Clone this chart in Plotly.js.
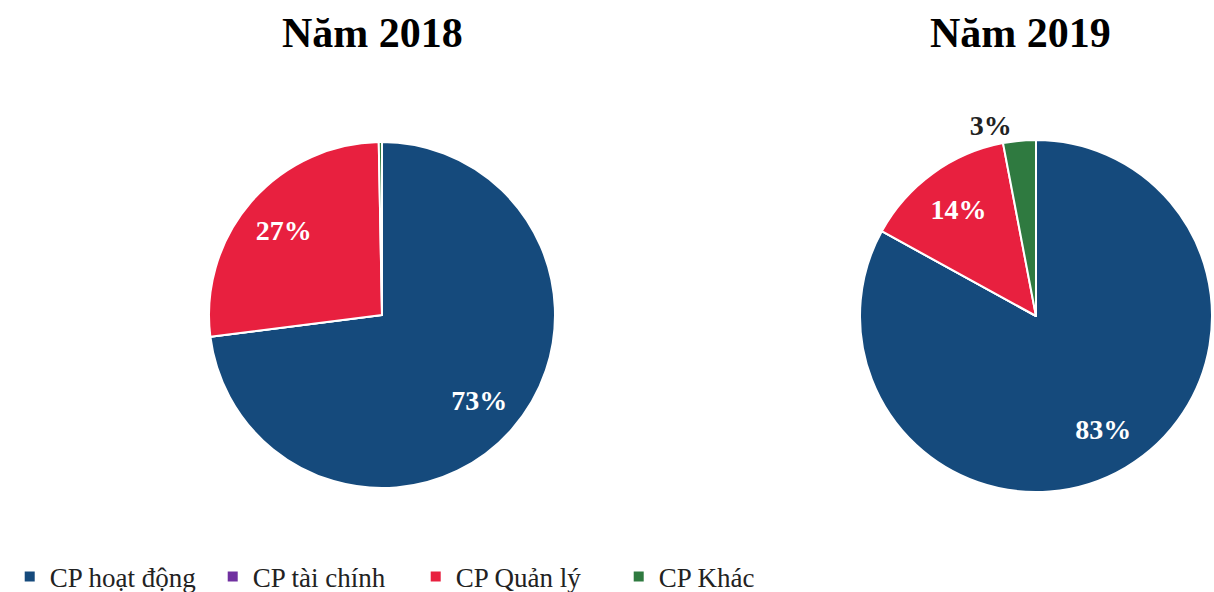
<!DOCTYPE html>
<html>
<head>
<meta charset="utf-8">
<script src="https://cdn.plot.ly/plotly-3.0.1.min.js"></script>
<style>body{margin:0;background:#fff}</style>
</head>
<body>
<div id="chart" style="width:1214px;height:592px"></div>
<script>
// Cost structure, share of total (%)
let cost_types = ["CP hoạt động", "CP tài chính", "CP Quản lý", "CP Khác"];
let shares_2018 = [73, 0, 26.7, 0.3];
let shares_2019 = [83, 0, 14, 3];
let slice_colors = ["#154a7c", "#7030a0", "#e8203f", "#2f7a40"];

let serif = "Liberation Serif, Times New Roman, serif";
let domain_2018 = {x: [209 / 1214, 555 / 1214], y: [1 - 488 / 592, 1 - 142 / 592]};
let domain_2019 = {x: [860 / 1214, 1212 / 1214], y: [1 - 492 / 592, 1 - 140 / 592]};

// solid pie, no text
function basePie(values, domain) {
  return {
    type: "pie",
    values: values,
    labels: cost_types,
    sort: false,
    direction: "clockwise",
    rotation: 0,
    marker: {colors: slice_colors, line: {color: "#fff", width: 2}},
    textinfo: "none",
    hoverinfo: "label+percent",
    domain: domain
  };
}

// transparent donut on top, only to push the % labels outward
function labelPie(values, domain, positions, colors) {
  return {
    type: "pie",
    values: values,
    labels: cost_types,
    sort: false,
    direction: "clockwise",
    rotation: 0,
    hole: 0.5,
    showlegend: false,
    hoverinfo: "skip",
    marker: {colors: cost_types.map(() => "rgba(0,0,0,0)"), line: {width: 0}},
    texttemplate: "%{percent:.0%}",
    textposition: positions,
    insidetextorientation: "horizontal",
    textfont: {family: serif, size: 28, color: colors, weight: "bold"},
    domain: domain
  };
}

let data = [
  basePie(shares_2018, domain_2018),
  basePie(shares_2019, domain_2019),
  labelPie(shares_2018, domain_2018, ["inside", "none", "inside", "none"], "#fff"),
  labelPie(shares_2019, domain_2019, ["inside", "none", "inside", "outside"], ["#fff", "#fff", "#fff", "#222"])
];

let layout = {
  width: 1214,
  height: 592,
  margin: {l: 0, r: 0, t: 0, b: 0, autoexpand: false},
  paper_bgcolor: "#fff",
  showlegend: true,
  legend: {
    orientation: "h",
    x: 0.008, y: 1 - 577 / 592,
    xanchor: "left", yanchor: "middle",
    entrywidth: 158,
    font: {family: serif, size: 27, color: "#222"},
    traceorder: "normal"
  },
  annotations: [
    {text: "<b>Năm 2018</b>", x: 372 / 1214, y: 1 - 33 / 592, xref: "paper", yref: "paper",
     xanchor: "center", yanchor: "middle",
     showarrow: false, font: {family: serif, size: 42, color: "#000"}},
    {text: "<b>Năm 2019</b>", x: 1020 / 1214, y: 1 - 33 / 592, xref: "paper", yref: "paper",
     xanchor: "center", yanchor: "middle",
     showarrow: false, font: {family: serif, size: 42, color: "#000"}}
  ]
};

Plotly.newPlot("chart", data, layout, {displayModeBar: false});
</script>
</body>
</html>
